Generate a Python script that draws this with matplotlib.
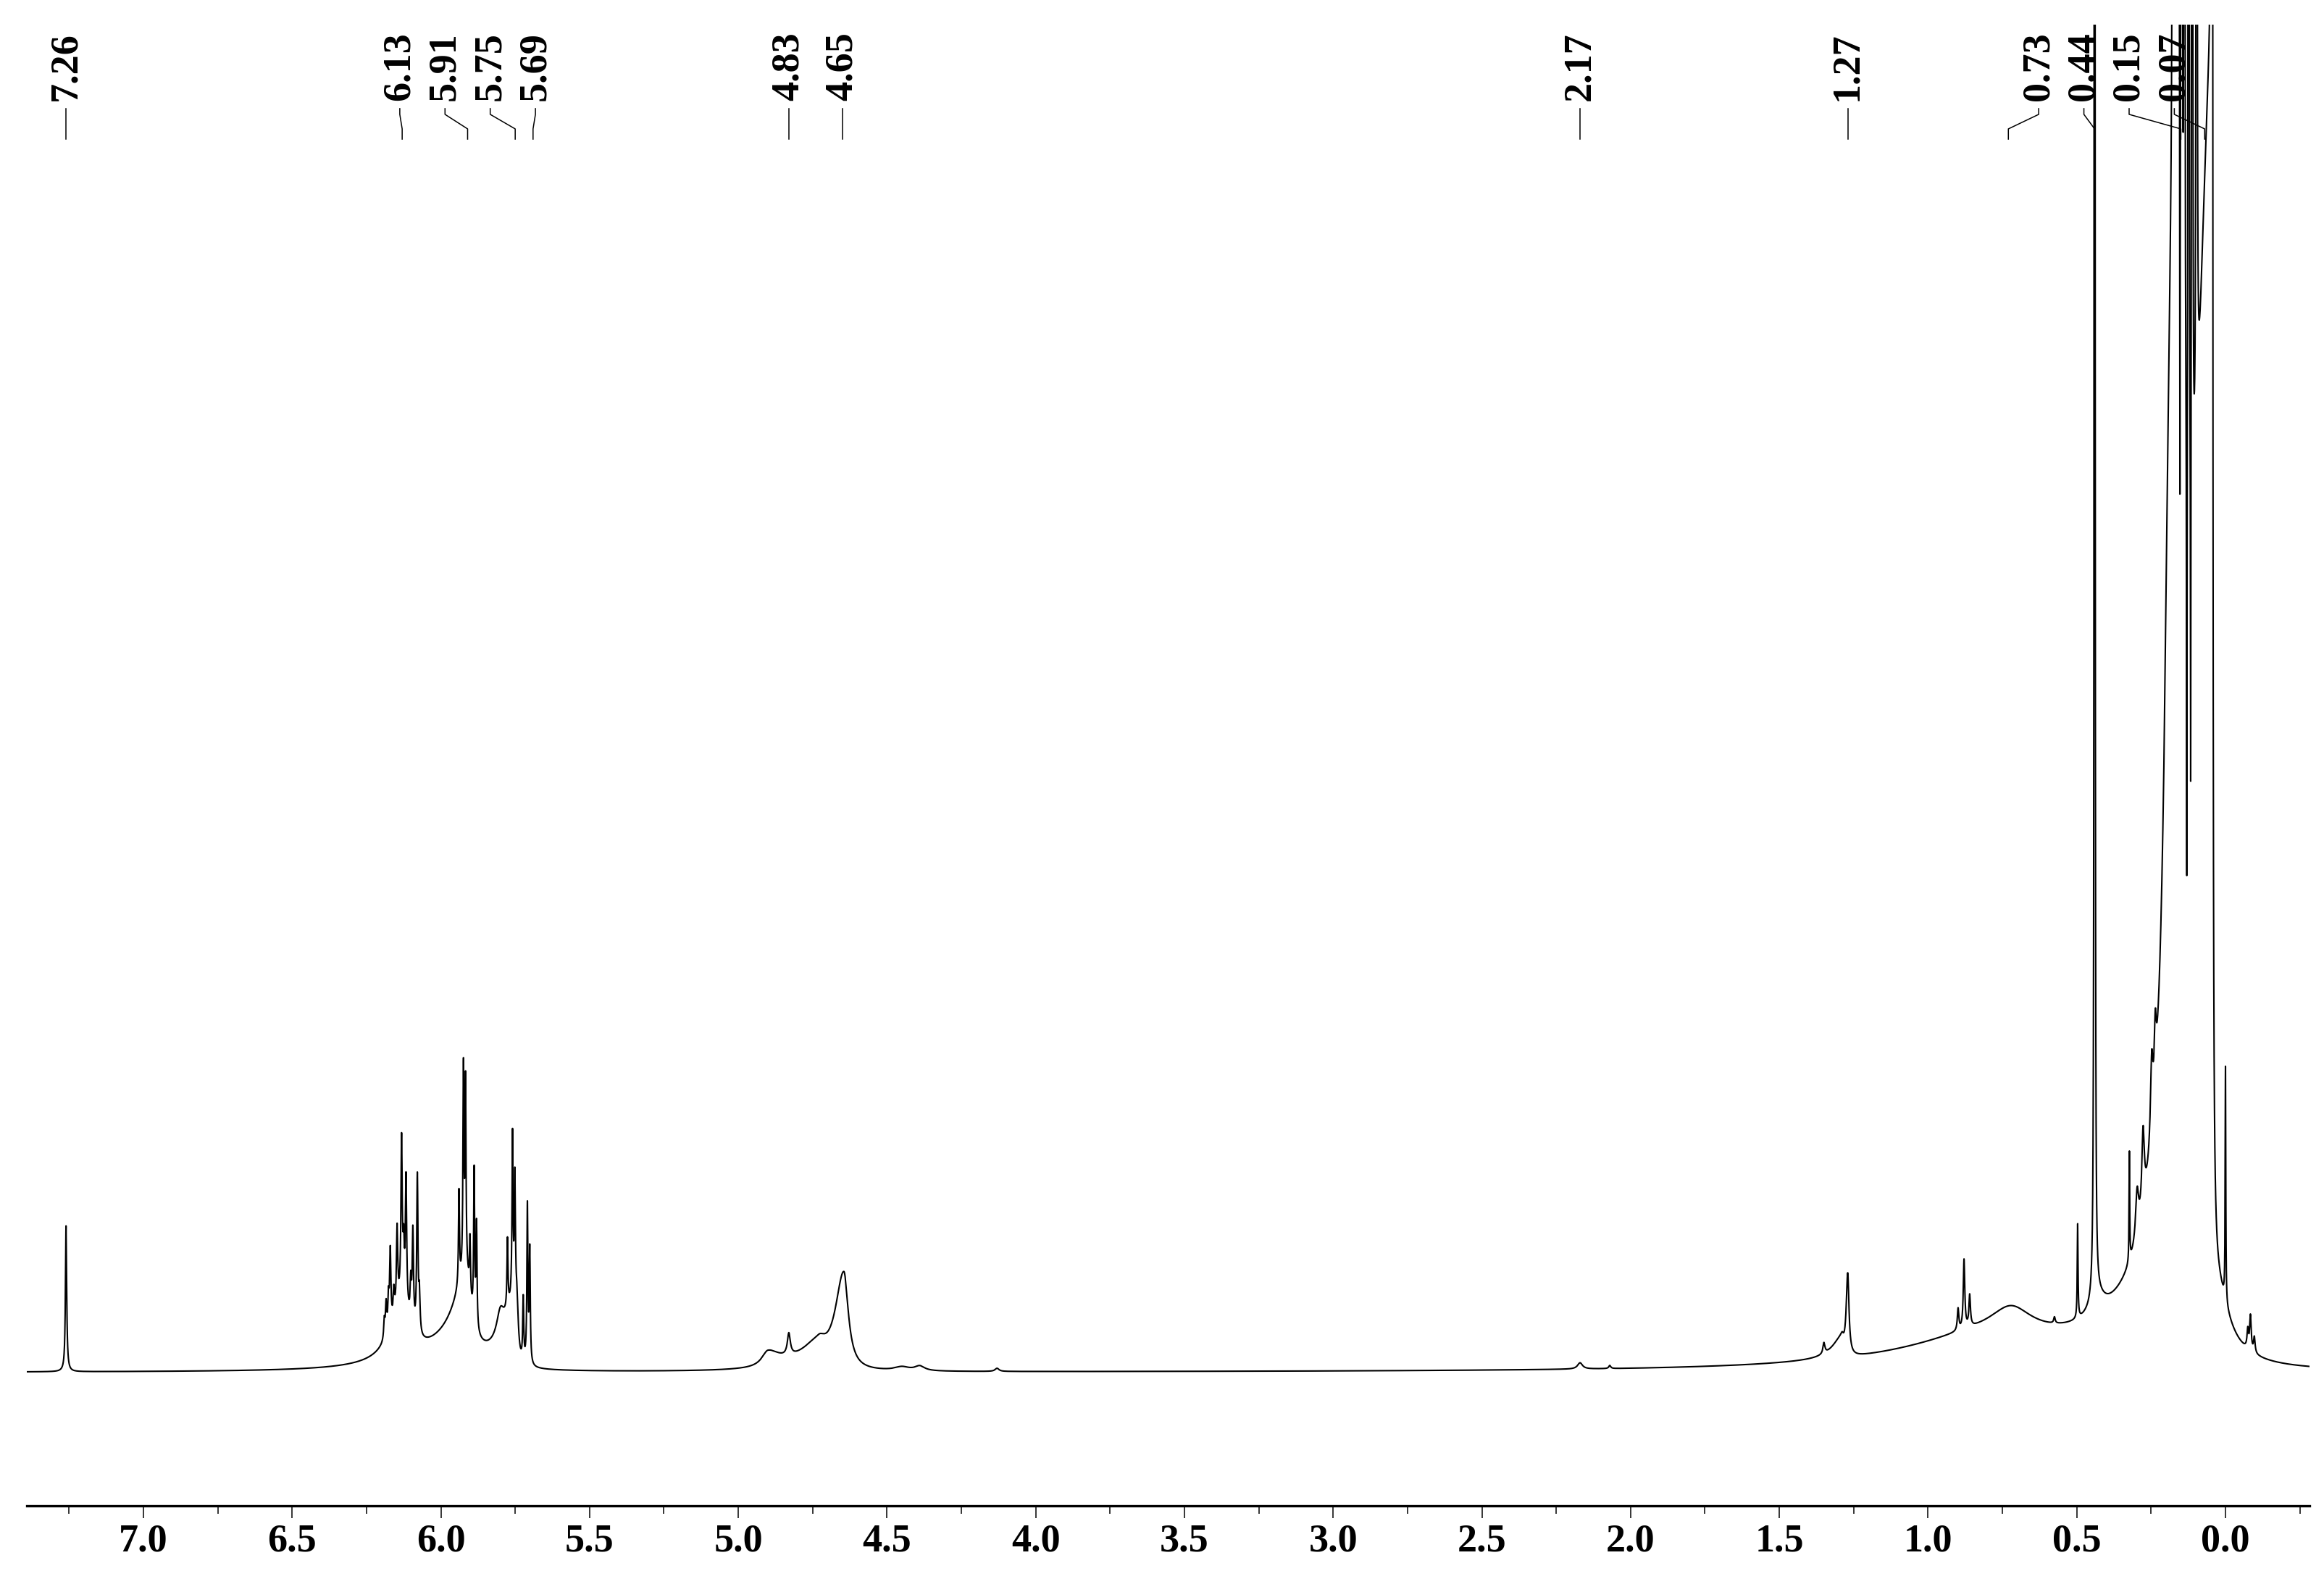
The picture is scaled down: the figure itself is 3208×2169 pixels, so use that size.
import numpy as np
import matplotlib.pyplot as plt
import matplotlib.transforms as mtransforms
from matplotlib.ticker import MultipleLocator, FormatStrFormatter

# 1H NMR spectrum, peak list
# shift (ppm), height (tallest 5.91 line ~ 1), half width on the high / low ppm side
line_ppm = [7.26,
            6.190, 6.184, 6.176, 6.170, 6.158, 6.147, 6.132, 6.125, 6.117, 6.101, 6.094,
            6.079, 6.072, 6.13, 5.95,
            5.939, 5.924, 5.917, 5.902, 5.888, 5.880, 5.915, 5.80,
            5.776, 5.759, 5.751, 5.723, 5.709, 5.701, 5.745,
            4.645, 4.73, 4.83, 4.90, 4.45, 4.39, 4.13, 2.17, 2.07,
            0.78, 1.35, 1.27, 1.29, 0.899, 0.879, 0.860, 0.72, 0.575, 0.497,
            0.44, 0.43, 0.323, 0.297, 0.277, 0.248, 0.236, 0.19, 0.165, 0.047,
            0.176, 0.168, 0.160, 0.147, 0.138, 0.124, 0.112, 0.097, 0.045,
            0.153, 0.130, 0.117,
            0.03, 0.0, -0.075, -0.084, -0.097]
line_height = [0.465,
               0.06, 0.10, 0.10, 0.24, 0.08, 0.25, 0.50, 0.15, 0.40, 0.12, 0.30,
               0.50, 0.12, 0.18, 0.07,
               0.30, 0.65, 0.60, 0.18, 0.48, 0.33, 0.22, 0.08,
               0.22, 0.52, 0.38, 0.20, 0.50, 0.36, 0.22,
               0.31, 0.07, 0.07, 0.05, 0.012, 0.015, 0.01, 0.02, 0.01,
               0.10, 0.035, 0.26, 0.06, 0.07, 0.22, 0.10, 0.07, 0.02, 0.30,
               40, 0.05, 0.35, 0.15, 0.25, 0.25, 0.20, 1.2, 3.0, 3.9,
               40, 40, 40, 40, 40, 40, 40, 40, 60,
               -1.5, -1.45, -1.3,
               0.18, 0.75, 0.06, 0.11, 0.05]
line_hw_hi = [0.0025,
              0.0025, 0.0025, 0.0025, 0.0025, 0.0025, 0.0025, 0.0025, 0.0025, 0.0025, 0.0025,
              0.0025, 0.0025, 0.0025, 0.045, 0.15,
              0.002, 0.002, 0.002, 0.002, 0.002, 0.002, 0.05, 0.015,
              0.002, 0.002, 0.002, 0.002, 0.002, 0.002, 0.05,
              0.035, 0.08, 0.006, 0.025, 0.03, 0.02, 0.008, 0.01, 0.004,
              0.35, 0.004, 0.006, 0.04, 0.003, 0.003, 0.003, 0.08, 0.003, 0.0015,
              0.0006, 0.03, 0.0012, 0.006, 0.005, 0.005, 0.004, 0.02, 0.02, 0.07,
              0.0005, 0.0005, 0.0005, 0.0005, 0.0005, 0.0005, 0.0005, 0.0005, 0.0005,
              0.0008, 0.0008, 0.0008,
              0.03, 0.0012, 0.003, 0.003, 0.003]
line_hw_lo = [0.0025,
              0.0025, 0.0025, 0.0025, 0.0025, 0.0025, 0.0025, 0.0025, 0.0025, 0.0025, 0.0025,
              0.0025, 0.0025, 0.0025, 0.03, 0.08,
              0.002, 0.002, 0.002, 0.002, 0.002, 0.002, 0.02, 0.015,
              0.002, 0.002, 0.002, 0.002, 0.002, 0.002, 0.006,
              0.018, 0.03, 0.006, 0.05, 0.03, 0.02, 0.008, 0.01, 0.004,
              0.25, 0.004, 0.005, 0.008, 0.003, 0.003, 0.003, 0.08, 0.003, 0.0015,
              0.0006, 0.03, 0.0012, 0.006, 0.005, 0.005, 0.004, 0.02, 0.02, 0.003,
              0.0005, 0.0005, 0.0005, 0.0005, 0.0005, 0.0005, 0.0005, 0.0005, 0.0005,
              0.0008, 0.0008, 0.0008,
              0.05, 0.0012, 0.003, 0.003, 0.003]

# picked peaks, grouped the way the labels are spread
label_groups = [[7.26], [6.13, 5.91, 5.75, 5.69], [4.83], [4.65], [2.17], [1.27],
                [0.73, 0.44, 0.15, 0.07]]

ppm = np.linspace(-0.2825, 7.392, 60000)
spec = np.zeros_like(ppm)
for c, h, whi, wlo in zip(line_ppm, line_height, line_hw_hi, line_hw_lo):
    w = np.where(ppm >= c, whi, wlo)
    spec += h * w**2 / ((ppm - c)**2 + w**2)

W, H = 3208, 2169
fig = plt.figure(figsize=(W / 100, H / 100), dpi=100)
ax = fig.add_axes([37 / W, 90 / H, 3151 / W, 2045 / H])

ax.plot(ppm, spec, color='black', lw=1.5)
ax.set_xlim(7.392, -0.2825)
ax.set_ylim(-0.425, 4.298)

for s in ['left', 'right', 'top']:
    ax.spines[s].set_visible(False)
ax.spines['bottom'].set_linewidth(2.4)
ax.set_yticks([])
ax.xaxis.set_major_locator(MultipleLocator(0.5))
ax.xaxis.set_minor_locator(MultipleLocator(0.25))
ax.xaxis.set_major_formatter(FormatStrFormatter('%.1f'))
ax.tick_params(axis='x', which='major', direction='out', length=12, width=1.1, pad=6)
ax.tick_params(axis='x', which='minor', direction='out', length=8, width=1.1)
for t in ax.get_xticklabels():
    t.set_fontfamily('Liberation Serif')
    t.set_fontweight('bold')
    t.set_fontsize(39)

# peak labels with the bent connectors
trans = mtransforms.blended_transform_factory(ax.transData, ax.transAxes)
spacing = 0.152
for g in label_groups:
    g = sorted(g, reverse=True)
    mid = (g[0] + g[-1]) / 2
    n = len(g)
    for i, p in enumerate(g):
        pos = mid + spacing * ((n - 1) / 2 - i)
        ax.text(pos, 0.9487, f'{p:.2f}', rotation=90, ha='center', va='bottom',
                transform=trans, fontsize=39, fontweight='bold',
                family='Liberation Serif')
        ax.plot([pos, pos, p, p], [0.9433, 0.9394, 0.9296, 0.9227],
                transform=trans, color='black', lw=1.1, clip_on=False)

fig.savefig('out.png', dpi=100)
